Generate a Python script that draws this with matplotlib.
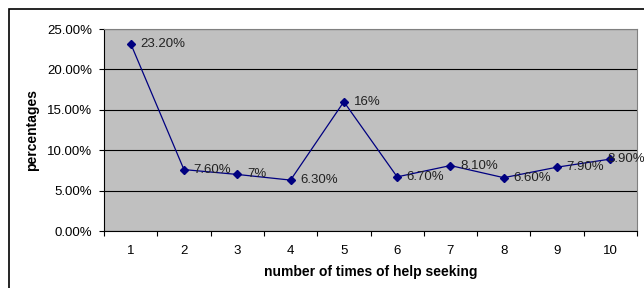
import matplotlib.pyplot as plt
from matplotlib.patches import Rectangle
from matplotlib.ticker import FixedLocator, NullFormatter

plt.rcParams["font.family"] = ["Liberation Sans", "DejaVu Sans"]

times = [1, 2, 3, 4, 5, 6, 7, 8, 9, 10]
percent = [23.2, 7.6, 7.0, 6.3, 16.0, 6.7, 8.1, 6.6, 7.9, 8.9]
point_labels = ["23.20%", "7.60%", "7%", "6.30%", "16%", "6.70%", "8.10%", "6.60%", "7.90%", "8.90%"]
y_ticks = [0, 5, 10, 15, 20, 25]

W, H = 644, 288
fig = plt.figure(figsize=(W / 100, H / 100), dpi=100)

# outer chart frame (runs off right/bottom edge like the source)
fig.patches.append(Rectangle((9 / W, -0.05), 1.0, 1 - 9 / H + 0.05, transform=fig.transFigure,
                             fill=False, edgecolor="black", linewidth=1.2))

ax = fig.add_axes([104 / W, 1 - 231 / H, (637 - 104) / W, (231 - 29) / H])
ax.set_facecolor("#c0c0c0")

ax.plot(times, percent, color="#000080", linewidth=0.9, marker="D", markersize=4,
        markerfacecolor="#000080", markeredgecolor="#000080")
for x, y, s in zip(times, percent, point_labels):
    # last label is pulled left so it stays inside the figure
    dx = 7 if x < 10 else -2.5
    ax.annotate(s, (x, y), xytext=(dx, 0), textcoords="offset points",
                ha="left", va="center", fontsize=9.5, color="#222222")

ax.set_xlim(0.5, 10.5)
ax.set_ylim(0, 25)
ax.set_yticks(y_ticks)
ax.set_yticklabels(["%.2f%%" % v for v in y_ticks], fontsize=9.5)
ax.set_xticks(times)
ax.set_xticklabels([str(t) for t in times], fontsize=9.5)
ax.tick_params(axis="x", which="major", length=0, pad=10)
ax.xaxis.set_minor_locator(FixedLocator([t + 0.5 for t in range(0, 11)]))
ax.xaxis.set_minor_formatter(NullFormatter())
ax.tick_params(axis="x", which="minor", length=3.5, width=0.8, direction="out")
ax.tick_params(axis="y", length=3.5, width=0.8, direction="out", pad=5)

ax.grid(axis="y", color="black", linewidth=0.8)
ax.set_axisbelow(True)
for side in ["top", "right"]:
    ax.spines[side].set_color("#808080")
ax.spines["left"].set_color("black")
ax.spines["bottom"].set_color("black")

ax.set_xlabel("number of times of help seeking", fontsize=10, fontweight="bold", labelpad=6)
ax.set_ylabel("percentages", fontsize=10, fontweight="bold", labelpad=6)

fig.savefig("out.png", dpi=100, facecolor="white")
